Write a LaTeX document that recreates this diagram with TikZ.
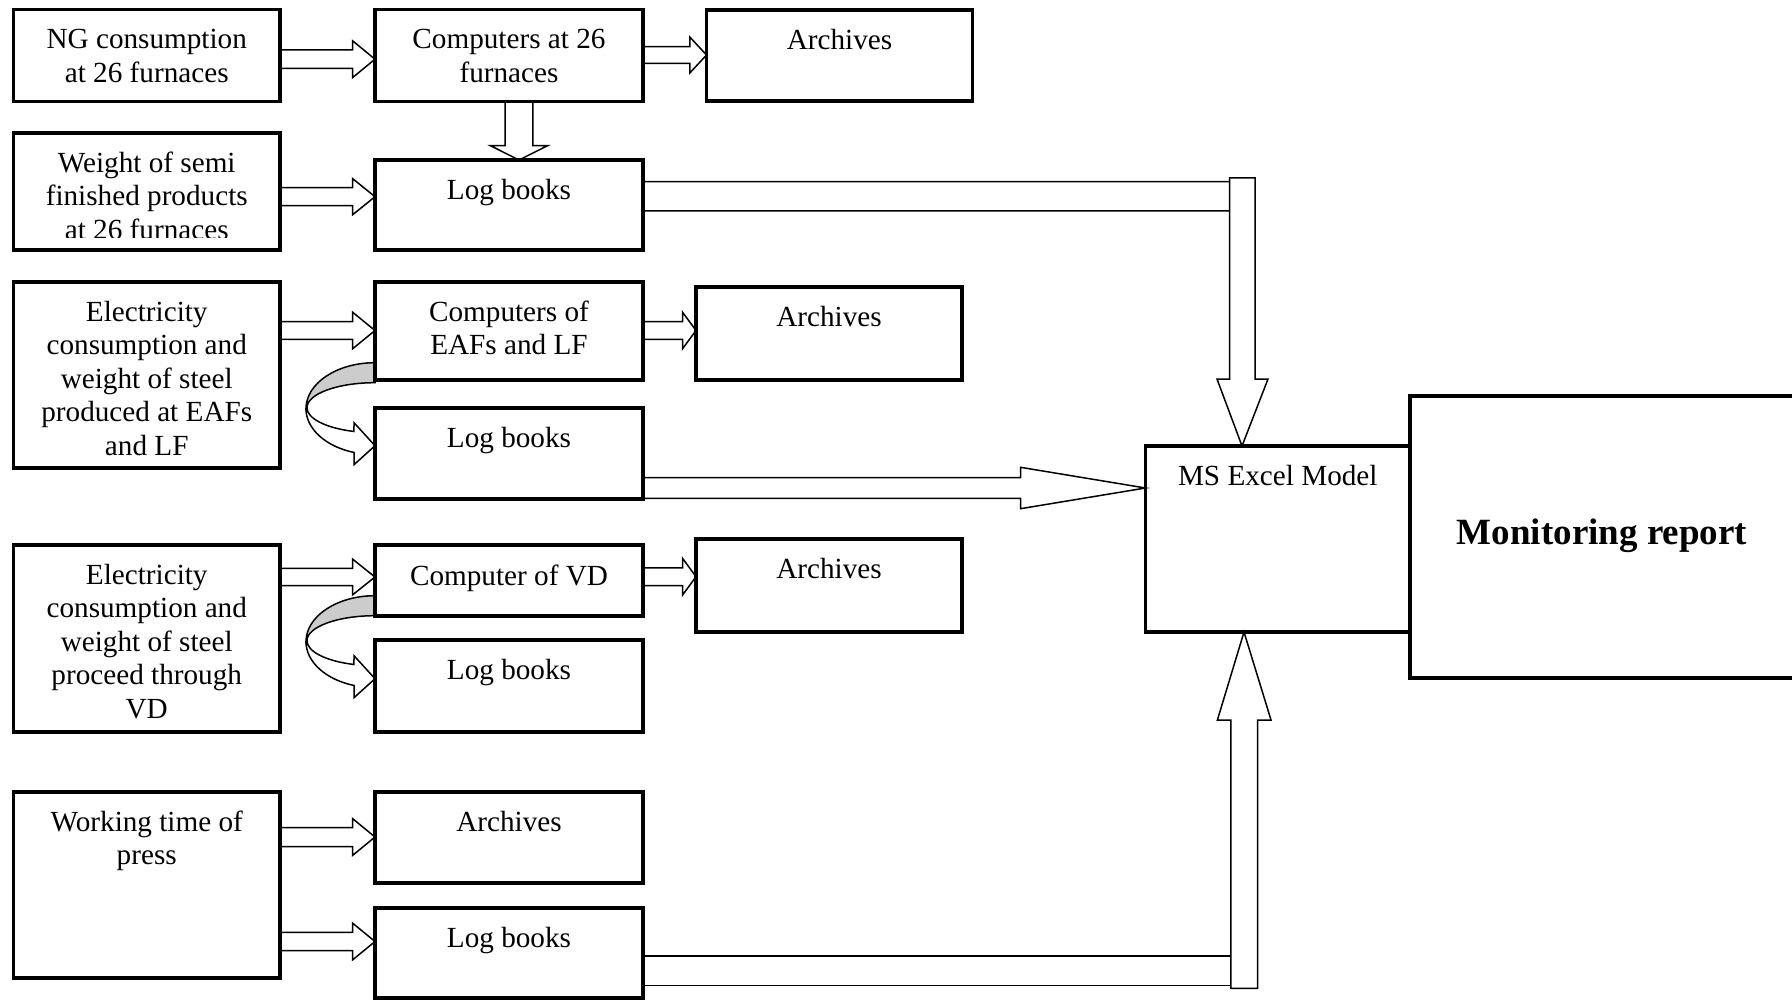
\documentclass[tikz,border=0pt]{standalone}
\usepackage{fontspec}
\setmainfont{Liberation Serif}
\usetikzlibrary{calc,backgrounds}
\newcommand\st{\rule{0pt}{12pt}}
\tikzset{
  box/.style={draw, line width=1.75pt, inner sep=0pt, outer sep=0pt},
  txt/.style={font=\fontsize{14.6}{16.7}\selectfont, align=center, inner sep=0pt, anchor=north},
  blk/.style={draw=black, fill=white, line width=0.75pt, line join=miter},
  curv/.style={draw=black, line width=0.75pt}
}
\newcommand\bx[5]{\node[box, minimum width={(#4-#2)*0.5pt}, minimum height={(#5-#3)*0.5pt}] (#1) at ({(#2+#4)/2},{(#3+#5)/2}) {};}
\newcommand\harr[6]{\draw[blk] ($(#1|-0,#3)+(0,-#4)$) -- ($(#2|-0,#3)+(-#6,-#4)$) -- ($(#2|-0,#3)+(-#6,-#5)$) -- (#2|-0,#3) -- ($(#2|-0,#3)+(-#6,#5)$) -- ($(#2|-0,#3)+(-#6,#4)$) -- ($(#1|-0,#3)+(0,#4)$);}
\newcommand\varr[6]{\draw[blk] ($(#1-|#3,0)+(-#4,0)$) -- ($(#2-|#3,0)+(-#4,-#6)$) -- ($(#2-|#3,0)+(-#5,-#6)$) -- (#2-|#3,0) -- ($(#2-|#3,0)+(#5,-#6)$) -- ($(#2-|#3,0)+(#4,-#6)$) -- ($(#1-|#3,0)+(#4,0)$);}
\newcommand\carr[1]{%
  \begin{scope}[shift={(#1)}]
    \filldraw[curv, fill=gray!40] (0,0) arc[start angle=270, end angle=180, x radius=69, y radius=46] -- (-68,45) arc[start angle=180, end angle=270, x radius=68, y radius=25] -- cycle;
    \filldraw[curv, fill=white] (-68,45) arc[start angle=180, end angle=108, x radius=68, y radius=25] -- (-21,60) -- (0,83) -- (-21,102) -- (-21,89.8) arc[start angle=107.7, end angle=180, x radius=69, y radius=46] -- cycle;
  \end{scope}}
\begin{document}
\begin{tikzpicture}[x=0.5pt, y=-0.5pt]
\useasboundingbox (0,0) rectangle (1792,1000);
% boxes
\bx{a1}{13.5}{9.5}{280}{101.5}
\bx{b1}{375}{9.5}{643}{101.5}
\bx{c1}{706.5}{10}{972.5}{101}
\bx{a2}{13.5}{133}{280}{250}
\bx{b2}{375}{160}{643}{250}
\bx{a3}{13.5}{282}{280}{468}
\bx{b3}{375}{282}{643}{380}
\bx{c3}{696}{287}{962}{380}
\bx{b4}{375}{408}{643}{499}
\bx{a5}{13.5}{545}{280}{732}
\bx{b5}{375}{545}{643}{616}
\bx{c5}{696}{539}{962}{632}
\bx{b6}{375}{640}{643}{732}
\bx{a7}{13.5}{792}{280}{978}
\bx{b7}{375}{792}{643}{883}
\bx{b8}{375}{908}{643}{998}
\bx{ex}{1145.5}{446}{1410}{632}
\bx{mr}{1410}{396}{1795}{678}
% texts
\node[txt] (a1t) at ($(a1.north)+(0,15)$) {\st NG consumption\\at 26 furnaces};
\node[txt] (b1t) at ($(b1.north)+(0,15)$) {\st Computers at 26\\furnaces};
\node[txt] (c1t) at ($(c1.north)+(0,15)$) {\st Archives};
\begin{scope}
  \clip (0,120) rectangle (300,237.5);
  \node[txt] (a2t) at ($(a2.north)+(0,15)$) {\st Weight of semi\\finished products\\at 26 furnaces};
\end{scope}
\node[txt] (b2t) at ($(b2.north)+(0,15)$) {\st Log books};
\node[txt] (a3t) at ($(a3.north)+(0,15)$) {\st Electricity\\consumption and\\weight of steel\\produced at EAFs\\and LF};
\node[txt] (b3t) at ($(b3.north)+(0,15)$) {\st Computers of\\EAFs and LF};
\node[txt] (c3t) at ($(c3.north)+(0,15)$) {\st Archives};
\node[txt] (b4t) at ($(b4.north)+(0,15)$) {\st Log books};
\node[txt] (a5t) at ($(a5.north)+(0,15)$) {\st Electricity\\consumption and\\weight of steel\\proceed through\\VD};
\node[txt] (b5t) at ($(b5.north)+(0,16)$) {\st Computer of VD};
\node[txt] (c5t) at ($(c5.north)+(0,15)$) {\st Archives};
\node[txt] (b6t) at ($(b6.north)+(0,15)$) {\st Log books};
\node[txt] (a7t) at ($(a7.north)+(0,15)$) {\st Working time of\\press};
\node[txt] (b7t) at ($(b7.north)+(0,15)$) {\st Archives};
\node[txt] (b8t) at ($(b8.north)+(0,15)$) {\st Log books};
\node[txt] (ext) at ($(ex.north)+(0,15)$) {\st MS Excel Model};
\node[font=\bfseries\fontsize{18.5}{22}\selectfont, inner sep=0pt, anchor=base] (mrt) at (1602,544) {Monitoring report};
% connectors
\begin{scope}[on background layer]
  \fill[white] (0,0) rectangle (1792,1000);
  \coordinate (cv1) at ($(b3.south west)+(0,-17.3)$);
  \coordinate (cv2) at ($(b5.south west)+(0,-20.3)$);
  \carr{cv1}
  \carr{cv2}
  \harr{a1.east}{b1.west}{59.2}{9.2}{18.3}{22.3}
  \harr{b1.east}{c1.west}{55}{8.3}{18}{16.7}
  \harr{a2.east}{b2.west}{196.7}{9}{18}{22.3}
  \harr{a3.east}{b3.west}{330.5}{8.8}{18.2}{22.3}
  \harr{b3.east}{c3.west}{330.5}{8.8}{18.2}{13.4}
  \harr{b4.east}{ex.west}{488}{10.3}{20.7}{125}
  \harr{a5.east}{b5.west}{577}{8.7}{17.8}{22.3}
  \harr{b5.east}{c5.west}{576.7}{8.8}{18.3}{13.4}
  \harr{a7.east}{b7.west}{837}{9.5}{18.3}{22.3}
  \harr{a7.east}{b8.west}{941.5}{9.2}{18.3}{22.3}
  \varr{b1.south}{b2.north}{519}{13.8}{28.5}{14.3}
  % L-shaped arrow from log books (NG) to Excel
  \coordinate (k1) at (1242,181.7);
  \draw[blk] (b2.east|-k1) -- (k1) -- ++(0,29.3) -- (b2.east|-0,211);
  \draw[blk] (1229.5,178) -- (1255,178) -- (1255,379) -- (1268,379) -- (ex.north-|k1) -- (1217,379) -- (1229.5,379) -- cycle;
  % L-shaped arrow from log books (press) to Excel
  \coordinate (k2) at (1244,956);
  \draw[blk] (b8.east|-k2) -- (k2) -- ++(0,29.7) -- (b8.east|-0,985.7);
  \draw[blk] (1230.8,988.3) -- (1257.6,988.3) -- (1257.6,720) -- (1271,720) -- (ex.south-|k2) -- (1217.4,720) -- (1230.8,720) -- cycle;
\end{scope}
\end{tikzpicture}
\end{document}
